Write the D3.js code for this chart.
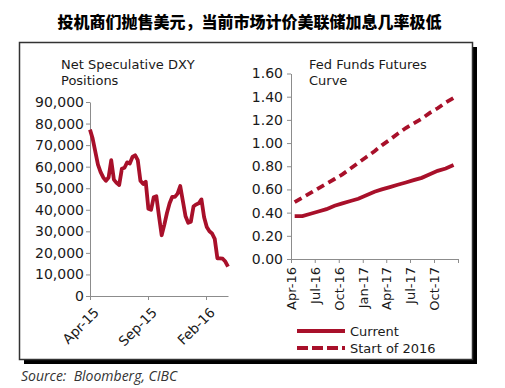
<!DOCTYPE html>
<html>
<head>
<meta charset="utf-8">
<script src="https://cdn.jsdelivr.net/npm/d3@7"></script>
<style>
body { margin: 0; background: #ffffff; }
</style>
</head>
<body>
<div class="chart"></div>
<script>
var w = 505;
var h = 388;
var red = "#a8102a";
var axisColor = "#8c8c8c";
var textColor = "#1a1a1a";
var font = "DejaVu Sans";

// weekly net speculative DXY positions, Apr-15 .. Mar-16
var dxyStart = new Date(2015, 3, 1);
var dxyValues = [77200, 73000, 67000, 61000, 57500, 55000, 53500, 55000, 63000, 54000,
	52500, 51500, 59000, 59500, 62000, 61500, 64500, 65300, 63000, 53500,
	52000, 53000, 40500, 40000, 45800, 46300, 37000, 28200, 33000, 38500,
	43000, 46000, 46000, 47500, 51000, 44000, 37000, 34000, 34500, 41500,
	42500, 43000, 44800, 36500, 32000, 30000, 29000, 26500, 17500, 17500,
	17300, 16000, 13600];
var dxyTicks = ["2015-04-01", "2015-09-01", "2016-02-01"];
var dxyYTicks = [0, 10000, 20000, 30000, 40000, 50000, 60000, 70000, 80000, 90000];

// fed funds futures curve, monthly Apr-16 .. Dec-17
var ffMonths = ["2016-04", "2016-05", "2016-06", "2016-07", "2016-08", "2016-09", "2016-10",
	"2016-11", "2016-12", "2017-01", "2017-02", "2017-03", "2017-04", "2017-05", "2017-06",
	"2017-07", "2017-08", "2017-09", "2017-10", "2017-11", "2017-12"];
var ffCurrent = [0.37, 0.37, 0.39, 0.41, 0.43, 0.46, 0.48, 0.50, 0.52, 0.55, 0.58,
	0.60, 0.62, 0.64, 0.66, 0.68, 0.70, 0.73, 0.76, 0.78, 0.81];
var ffStart2016 = [0.49, 0.53, 0.57, 0.61, 0.65, 0.69, 0.73, 0.78, 0.83, 0.88, 0.93,
	0.98, 1.03, 1.08, 1.13, 1.17, 1.21, 1.26, 1.30, 1.35, 1.39];
var ffTicks = ["2016-04-01", "2016-07-01", "2016-10-01", "2017-01-01", "2017-04-01",
	"2017-07-01", "2017-10-01", "2018-01-01"];
var ffYTicks = [0, 0.2, 0.4, 0.6, 0.8, 1.0, 1.2, 1.4, 1.6];
var legendLabels = ["Current", "Start of 2016"];

var parseDay = d3.timeParse("%Y-%m-%d");
var parseMonth = d3.timeParse("%Y-%m");

var svg = d3.select(".chart")
	.append("svg")
	.attr("width", w)
	.attr("height", h)
	.style("background", "#ffffff");

svg.append("text")
	.attr("x", w / 2 - 3)
	.attr("y", 28)
	.attr("text-anchor", "middle")
	.attr("font-family", "Noto Sans CJK SC")
	.attr("font-weight", 900)
	.attr("font-size", 16)
	.attr("fill", "#000000")
	.text("投机商们抛售美元，当前市场计价美联储加息几率极低");

// frame with drop shadow
svg.append("rect")
	.attr("x", 24)
	.attr("y", 47)
	.attr("width", 453)
	.attr("height", 317)
	.attr("fill", "#000000");
svg.append("rect")
	.attr("x", 19.5)
	.attr("y", 42.5)
	.attr("width", 453)
	.attr("height", 317)
	.attr("fill", "#ffffff")
	.attr("stroke", "#333333")
	.attr("stroke-width", 1.5);

svg.append("text")
	.attr("x", 21)
	.attr("y", 381)
	.attr("font-family", "Open Sans")
	.attr("font-style", "italic")
	.attr("font-size", 14)
	.attr("fill", "#333333")
	.attr("xml:space", "preserve")
	.text("Source:  Bloomberg, CIBC");

function styleAxis(g) {
	g.select(".domain").attr("stroke", axisColor);
	g.selectAll(".tick line").attr("stroke", axisColor);
	g.selectAll(".tick text")
		.attr("fill", textColor)
		.attr("font-family", font);
}

function drawTitle(x, lines) {
	svg.append("text")
		.attr("font-family", font)
		.attr("font-size", 13)
		.attr("fill", textColor)
		.selectAll("tspan")
		.data(lines)
		.join("tspan")
		.attr("x", x)
		.attr("y", function(d, i) { return 69 + i * 16; })
		.text(function(d) { return d; });
}

// ---- left chart: net speculative DXY positions
drawTitle(61, ["Net Speculative DXY", "Positions"]);

var dxyData = dxyValues.map(function(v, i) {
	return { date: d3.timeDay.offset(dxyStart, i * 7), value: v };
});

var xL = d3.scaleTime()
	.domain([dxyStart, dxyData[dxyData.length - 1].date])
	.range([90, 228]);
var yL = d3.scaleLinear()
	.domain([0, 90000])
	.range([296, 102]);

svg.append("g")
	.attr("transform", "translate(90,0)")
	.call(d3.axisLeft(yL).tickValues(dxyYTicks).tickFormat(d3.format(",")).tickSize(4).tickSizeOuter(0))
	.call(styleAxis)
	.call(function(g) {
		g.selectAll(".tick text").attr("font-size", 14).attr("x", -6);
	});

svg.append("g")
	.attr("transform", "translate(0,296)")
	.call(d3.axisBottom(xL).tickValues(dxyTicks.map(parseDay)).tickFormat(d3.timeFormat("%b-%y")).tickSize(4).tickSizeOuter(0))
	.call(styleAxis)
	.call(function(g) {
		g.selectAll(".tick text")
			.attr("font-size", 13.5)
			.attr("text-anchor", "end")
			.attr("dy", "0.35em")
			.attr("transform", "translate(6,14) rotate(-45)")
			.attr("x", 0)
			.attr("y", 0);
	});

svg.append("path")
	.datum(dxyData)
	.attr("fill", "none")
	.attr("stroke", red)
	.attr("stroke-width", 3.8)
	.attr("stroke-linejoin", "round")
	.attr("d", d3.line()
		.x(function(d) { return xL(d.date); })
		.y(function(d) { return yL(d.value); }));

// ---- right chart: fed funds futures curve
drawTitle(309, ["Fed Funds Futures", "Curve"]);

var xR = d3.scaleTime()
	.domain([parseDay("2016-04-01"), parseDay("2018-01-01")])
	.range([291, 458]);
var yR = d3.scaleLinear()
	.domain([0, 1.6])
	.range([259, 73.5]);

svg.append("g")
	.attr("transform", "translate(291,0)")
	.call(d3.axisLeft(yR).tickValues(ffYTicks).tickFormat(d3.format(".2f")).tickSize(4).tickSizeOuter(0))
	.call(styleAxis)
	.call(function(g) {
		g.selectAll(".tick text").attr("font-size", 14).attr("x", -8);
	});

var lastTick = ffTicks[ffTicks.length - 1];
svg.append("g")
	.attr("transform", "translate(0,259)")
	.call(d3.axisBottom(xR).tickValues(ffTicks.map(parseDay))
		.tickFormat(function(d) { return d3.timeFormat("%Y-%m-%d")(d) === lastTick ? "" : d3.timeFormat("%b-%y")(d); })
		.tickSize(4).tickSizeOuter(0))
	.call(styleAxis)
	.call(function(g) {
		g.selectAll(".tick text")
			.attr("font-size", 13)
			.attr("text-anchor", "end")
			.attr("dy", "0.35em")
			.attr("transform", "translate(0,8) rotate(-90)")
			.attr("x", 0)
			.attr("y", 0);
	});

var ffSeries = [
	{ name: legendLabels[0], values: ffCurrent, dash: null },
	{ name: legendLabels[1], values: ffStart2016, dash: "8,5" }
];

var lineR = d3.line()
	.x(function(d) { return xR(d.date); })
	.y(function(d) { return yR(d.value); });

ffSeries.forEach(function(s) {
	var pts = s.values.map(function(v, i) {
		return { date: d3.timeDay.offset(parseMonth(ffMonths[i]), 14), value: v };
	});
	svg.append("path")
		.datum(pts)
		.attr("fill", "none")
		.attr("stroke", red)
		.attr("stroke-width", 3.8)
		.attr("stroke-dasharray", s.dash)
		.attr("d", lineR);
});

var legend = svg.append("g").attr("transform", "translate(297,331)");
ffSeries.forEach(function(s, i) {
	legend.append("line")
		.attr("x1", 0)
		.attr("x2", 48)
		.attr("y1", i * 17)
		.attr("y2", i * 17)
		.attr("stroke", red)
		.attr("stroke-width", 3.8)
		.attr("stroke-dasharray", s.dash ? "11,4" : null);
	legend.append("text")
		.attr("x", 53)
		.attr("y", i * 17 + 5)
		.attr("font-family", font)
		.attr("font-size", 13)
		.attr("fill", textColor)
		.text(s.name);
});
</script>
</body>
</html>
